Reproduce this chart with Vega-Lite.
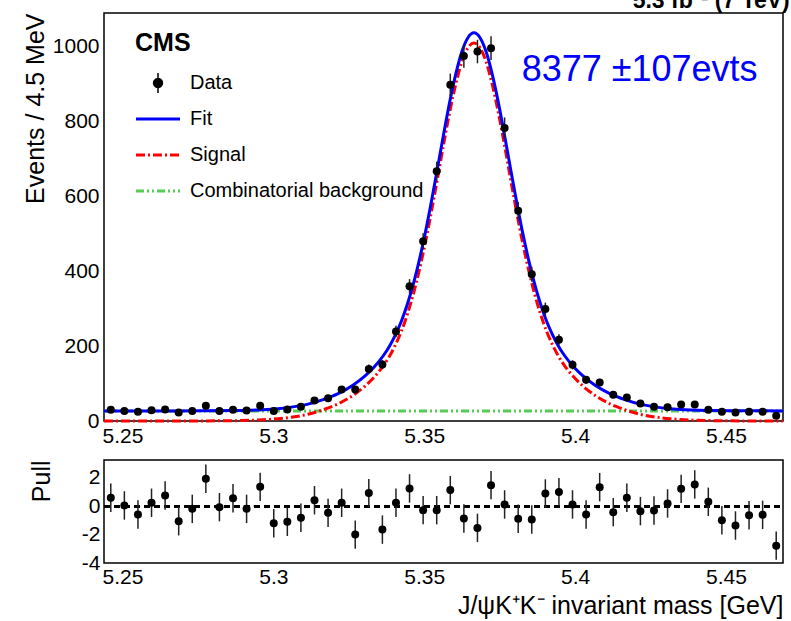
{
  "$schema": "https://vega.github.io/schema/vega-lite/v6.json",
  "padding": {"left": 22, "top": -10, "right": 4, "bottom": 0},
  "background": "white",
  "title": {"text": "5.3 fb⁻¹ (7 TeV)", "anchor": "end", "fontSize": 23, "fontWeight": "bold", "font": "Liberation Sans", "offset": -19, "baseline": "alphabetic", "color": "black"},
  "bounds": "flush",
  "spacing": 39,
  "datasets": {
    "bins": [
      {"m":5.24615,"y":30,"e":5.5,"p":0.59,"pe":1},
      {"m":5.25065,"y":27,"e":5.2,"p":0.05,"pe":1},
      {"m":5.25515,"y":25,"e":5.0,"p":-0.59,"pe":1},
      {"m":5.25965,"y":29,"e":5.4,"p":0.24,"pe":1},
      {"m":5.26415,"y":31,"e":5.6,"p":0.75,"pe":1},
      {"m":5.26865,"y":23,"e":4.8,"p":-1.06,"pe":1},
      {"m":5.27315,"y":27,"e":5.2,"p":-0.19,"pe":1},
      {"m":5.27765,"y":41,"e":6.4,"p":1.93,"pe":1},
      {"m":5.28215,"y":27,"e":5.2,"p":-0.07,"pe":1},
      {"m":5.28665,"y":30,"e":5.5,"p":0.56,"pe":1},
      {"m":5.29115,"y":28,"e":5.3,"p":-0.19,"pe":1},
      {"m":5.29565,"y":41,"e":6.4,"p":1.36,"pe":1},
      {"m":5.30015,"y":27,"e":5.2,"p":-1.2,"pe":1},
      {"m":5.30465,"y":31,"e":5.6,"p":-1.1,"pe":1},
      {"m":5.30915,"y":38,"e":6.2,"p":-0.82,"pe":1},
      {"m":5.31365,"y":55,"e":7.4,"p":0.42,"pe":1},
      {"m":5.31815,"y":61,"e":7.8,"p":-0.47,"pe":1},
      {"m":5.32265,"y":84,"e":9.2,"p":0.24,"pe":1},
      {"m":5.32715,"y":84,"e":9.2,"p":-2.0,"pe":1},
      {"m":5.33165,"y":139,"e":11.8,"p":0.92,"pe":1},
      {"m":5.33615,"y":151,"e":12.3,"p":-1.65,"pe":1},
      {"m":5.34065,"y":239,"e":15.5,"p":0.24,"pe":1},
      {"m":5.34515,"y":360,"e":19.0,"p":1.25,"pe":1},
      {"m":5.34965,"y":480,"e":21.9,"p":-0.28,"pe":1},
      {"m":5.35415,"y":667,"e":25.8,"p":-0.28,"pe":1},
      {"m":5.35865,"y":898,"e":30.0,"p":1.13,"pe":1},
      {"m":5.36315,"y":975,"e":31.2,"p":-0.87,"pe":1},
      {"m":5.36765,"y":987,"e":31.4,"p":-1.53,"pe":1},
      {"m":5.37215,"y":996,"e":31.6,"p":1.48,"pe":1},
      {"m":5.37665,"y":783,"e":28.0,"p":0.12,"pe":1},
      {"m":5.38115,"y":562,"e":23.7,"p":-0.89,"pe":1},
      {"m":5.38565,"y":392,"e":19.8,"p":-0.94,"pe":1},
      {"m":5.39015,"y":299,"e":17.3,"p":0.89,"pe":1},
      {"m":5.39465,"y":217,"e":14.7,"p":0.99,"pe":1},
      {"m":5.39915,"y":150,"e":12.2,"p":0.12,"pe":1},
      {"m":5.40365,"y":110,"e":10.5,"p":-0.59,"pe":1},
      {"m":5.40815,"y":103,"e":10.1,"p":1.34,"pe":1},
      {"m":5.41265,"y":70,"e":8.4,"p":-0.42,"pe":1},
      {"m":5.41715,"y":63,"e":7.9,"p":0.59,"pe":1},
      {"m":5.42165,"y":47,"e":6.9,"p":-0.35,"pe":1},
      {"m":5.42615,"y":38,"e":6.2,"p":-0.31,"pe":1},
      {"m":5.43065,"y":37,"e":6.1,"p":0.19,"pe":1},
      {"m":5.43515,"y":44,"e":6.6,"p":1.22,"pe":1},
      {"m":5.43965,"y":44,"e":6.6,"p":1.53,"pe":1},
      {"m":5.44415,"y":30,"e":5.5,"p":0.31,"pe":1},
      {"m":5.44865,"y":25,"e":5.0,"p":-0.99,"pe":1},
      {"m":5.45315,"y":23,"e":4.8,"p":-1.36,"pe":1},
      {"m":5.45765,"y":25,"e":5.0,"p":-0.64,"pe":1},
      {"m":5.46215,"y":25,"e":5.0,"p":-0.61,"pe":1},
      {"m":5.46665,"y":14,"e":3.7,"p":-2.78,"pe":1}
    ],
    "bkg": [{"m":5.2439,"y":27},{"m":5.4689,"y":27}],
    "sig": [
      {"m":5.2439,"y":0},{"m":5.2565,"y":0},{"m":5.2665,"y":0},{"m":5.2765,"y":0.2},{"m":5.2865,"y":0.8},
      {"m":5.2965,"y":3.2},{"m":5.3015,"y":6},{"m":5.3065,"y":10.7},{"m":5.3115,"y":18},{"m":5.3165,"y":30},
      {"m":5.3215,"y":46},{"m":5.3265,"y":69},{"m":5.3305,"y":94},{"m":5.3335,"y":118},{"m":5.3365,"y":148},
      {"m":5.3385,"y":173},{"m":5.3405,"y":204},{"m":5.3425,"y":241},{"m":5.3445,"y":287},{"m":5.3465,"y":342},
      {"m":5.3485,"y":407},{"m":5.3505,"y":481},{"m":5.3525,"y":564},{"m":5.3545,"y":652},{"m":5.3565,"y":742},
      {"m":5.3585,"y":827},{"m":5.3605,"y":901},{"m":5.3625,"y":960},{"m":5.3645,"y":997},{"m":5.3665,"y":1010},
      {"m":5.3685,"y":997},{"m":5.3705,"y":960},{"m":5.3725,"y":901},{"m":5.3745,"y":827},{"m":5.3765,"y":742},
      {"m":5.3785,"y":652},{"m":5.3805,"y":564},{"m":5.3825,"y":481},{"m":5.3845,"y":407},{"m":5.3865,"y":342},
      {"m":5.3885,"y":287},{"m":5.3905,"y":241},{"m":5.3925,"y":204},{"m":5.3945,"y":173},{"m":5.3965,"y":148},
      {"m":5.3995,"y":118},{"m":5.4025,"y":94},{"m":5.4065,"y":69},{"m":5.4115,"y":46},{"m":5.4165,"y":30},
      {"m":5.4215,"y":18},{"m":5.4265,"y":10.7},{"m":5.4315,"y":6},{"m":5.4365,"y":3.2},{"m":5.4465,"y":0.8},
      {"m":5.4565,"y":0.2},{"m":5.4689,"y":0}
    ],
    "fit": [
      {"m":5.2439,"y":27},{"m":5.2565,"y":27},{"m":5.2665,"y":27},{"m":5.2765,"y":27.2},{"m":5.2865,"y":27.8},
      {"m":5.2965,"y":30.2},{"m":5.3015,"y":33},{"m":5.3065,"y":37.7},{"m":5.3115,"y":45},{"m":5.3165,"y":57},
      {"m":5.3215,"y":73},{"m":5.3265,"y":96},{"m":5.3305,"y":121},{"m":5.3335,"y":145},{"m":5.3365,"y":175},
      {"m":5.3385,"y":200},{"m":5.3405,"y":231},{"m":5.3425,"y":268},{"m":5.3445,"y":314},{"m":5.3465,"y":369},
      {"m":5.3485,"y":434},{"m":5.3505,"y":508},{"m":5.3525,"y":591},{"m":5.3545,"y":679},{"m":5.3565,"y":769},
      {"m":5.3585,"y":854},{"m":5.3605,"y":928},{"m":5.3625,"y":987},{"m":5.3645,"y":1024},{"m":5.3665,"y":1037},
      {"m":5.3685,"y":1024},{"m":5.3705,"y":987},{"m":5.3725,"y":928},{"m":5.3745,"y":854},{"m":5.3765,"y":769},
      {"m":5.3785,"y":679},{"m":5.3805,"y":591},{"m":5.3825,"y":508},{"m":5.3845,"y":434},{"m":5.3865,"y":369},
      {"m":5.3885,"y":314},{"m":5.3905,"y":268},{"m":5.3925,"y":231},{"m":5.3945,"y":200},{"m":5.3965,"y":175},
      {"m":5.3995,"y":145},{"m":5.4025,"y":121},{"m":5.4065,"y":96},{"m":5.4115,"y":73},{"m":5.4165,"y":57},
      {"m":5.4215,"y":45},{"m":5.4265,"y":37.7},{"m":5.4315,"y":33},{"m":5.4365,"y":30.2},{"m":5.4465,"y":27.8},
      {"m":5.4565,"y":27.2},{"m":5.4689,"y":27}
    ]
  },
  "config": {
    "view": {"stroke": "black", "strokeWidth": 1.5},
    "font": "Liberation Sans",
    "axis": {"grid": false, "domain": false, "tickSize": 0, "tickColor": "black", "tickWidth": 1.2, "labelFont": "Liberation Sans", "labelFontSize": 21, "labelColor": "black", "titleFont": "Liberation Sans", "titleFontSize": 25, "titleFontWeight": "normal", "titleColor": "black", "labelOverlap": false, "labelFlush": false}
  },
  "vconcat": [
    {
      "width": 679,
      "height": 408,
      "layer": [
        {
          "encoding": {
            "x": {"field": "m", "type": "quantitative", "scale": {"domain": [5.2439, 5.4689], "nice": false, "zero": false},
              "axis": {"values": [5.25,5.26,5.27,5.28,5.29,5.3,5.31,5.32,5.33,5.34,5.35,5.36,5.37,5.38,5.39,5.4,5.41,5.42,5.43,5.44,5.45,5.46],
                "format": ".3~f", "labelExpr": "abs(datum.value*20 - round(datum.value*20)) < 0.001 ? datum.label : ''",
                "labelPadding": 4, "title": null, "labelOverlap": false, "labelFlush": false,
                "encode": {"ticks": {"update": {"y2": {"signal": "abs(datum.value*20 - round(datum.value*20)) < 0.001 ? -12 : -6"}}}}}},
            "y": {"field": "y", "type": "quantitative", "scale": {"domain": [0, 1090], "nice": false},
              "axis": {"values": [0,50,100,150,200,250,300,350,400,450,500,550,600,650,700,750,800,850,900,950,1000,1050],
                "format": "d", "labelExpr": "datum.value % 200 === 0 ? datum.label : ''", "labelPadding": 5, "labelOverlap": false,
                "title": "Events / 4.5 MeV", "titleAnchor": "end", "titleBaseline": "alphabetic", "titleX": -61,
                "encode": {"ticks": {"update": {"x2": {"signal": "datum.value % 200 === 0 ? 22 : 11"}}}}}}
          },
          "layer": [
            {"data": {"name": "bkg"}, "mark": {"type": "line", "strokeWidth": 3, "strokeDash": [8,3,2,3,2,3]},
              "encoding": {"color": {"datum": "Combinatorial background",
                "scale": {"domain": ["Data","Fit","Signal","Combinatorial background"], "range": ["#000000","#0000ff","#ff0000","#55cc55"]},
                "legend": {"orient": "none", "legendX": 31, "legendY": 18, "title": "CMS", "titleFontSize": 25, "titleFont": "Liberation Sans", "titleFontWeight": "bold", "titleColor": "black", "titlePadding": 12,
                  "labelFontSize": 20, "labelFont": "Liberation Sans", "labelColor": "black", "labelOffset": 22, "labelLimit": 400,
                  "symbolSize": 1936, "symbolStrokeWidth": 3, "symbolOffset": 13, "clipHeight": 30, "rowPadding": 6, "padding": 0,
                  "encode": {"symbols": {"update": {
                    "shape": {"signal": "datum.value === 'Data' ? 'M-0.2,0A0.2,0.2,0,1,0,0.2,0A0.2,0.2,0,1,0,-0.2,0ZM0,-0.45L0,0.45' : 'stroke'"},
                    "fill": {"signal": "datum.value === 'Data' ? 'black' : 'transparent'"},
                    "stroke": {"signal": "datum.value === 'Data' ? '#222222' : datum.value === 'Fit' ? '#0000ff' : datum.value === 'Signal' ? '#ff0000' : '#55cc55'"},
                    "strokeWidth": {"signal": "datum.value === 'Data' ? 1.5 : 3"},
                    "strokeDash": {"signal": "datum.value === 'Signal' ? [9,3,2,3] : datum.value === 'Combinatorial background' ? [8,3,2,3,2,3] : [1,0]"},
                    "opacity": {"value": 1},
                    "size": {"value": 1936}
                  }}}}}}},
            {"data": {"name": "sig"}, "mark": {"type": "line", "strokeWidth": 3, "strokeDash": [9,3,2,3], "interpolate": "monotone"},
              "encoding": {"color": {"datum": "Signal", "scale": {"domain": ["Data","Fit","Signal","Combinatorial background"], "range": ["#000000","#0000ff","#ff0000","#55cc55"]}}}},
            {"data": {"name": "fit"}, "mark": {"type": "line", "strokeWidth": 3, "interpolate": "monotone"},
              "encoding": {"color": {"datum": "Fit", "scale": {"domain": ["Data","Fit","Signal","Combinatorial background"], "range": ["#000000","#0000ff","#ff0000","#55cc55"]}}}},
            {"data": {"name": "bins"}, "mark": {"type": "errorbar", "ticks": false, "thickness": 1.5, "color": "#222222"},
              "encoding": {"yError": {"field": "e"}}},
            {"data": {"name": "bins"}, "mark": {"type": "point", "filled": true, "size": 64, "opacity": 1, "shape": "circle"},
              "encoding": {"color": {"datum": "Data", "scale": {"domain": ["Data","Fit","Signal","Combinatorial background"], "range": ["#000000","#0000ff","#ff0000","#55cc55"]}}}}
          ]
        },
        {"data": {"values": [{"label": "8377 ±107evts"}]},
          "mark": {"type": "text", "align": "left", "baseline": "alphabetic", "fontSize": 36, "font": "Liberation Sans", "color": "#0000ff", "opacity": 1},
          "encoding": {"text": {"field": "label", "type": "nominal"},
            "x": {"datum": 5.3823, "type": "quantitative", "scale": {"domain": [5.2439, 5.4689], "nice": false, "zero": false},
              "axis": {"values": [5.25,5.26,5.27,5.28,5.29,5.3,5.31,5.32,5.33,5.34,5.35,5.36,5.37,5.38,5.39,5.4,5.41,5.42,5.43,5.44,5.45,5.46],
                "format": ".3~f", "labelExpr": "abs(datum.value*20 - round(datum.value*20)) < 0.001 ? datum.label : ''",
                "labelPadding": 4, "title": null, "labelOverlap": false, "labelFlush": false,
                "encode": {"ticks": {"update": {"y2": {"signal": "abs(datum.value*20 - round(datum.value*20)) < 0.001 ? -12 : -6"}}}}}},
            "y": {"datum": 909, "type": "quantitative", "scale": {"domain": [0, 1090], "nice": false},
              "axis": {"values": [0,50,100,150,200,250,300,350,400,450,500,550,600,650,700,750,800,850,900,950,1000,1050],
                "format": "d", "labelExpr": "datum.value % 200 === 0 ? datum.label : ''", "labelPadding": 5, "labelOverlap": false,
                "title": "Events / 4.5 MeV", "titleAnchor": "end", "titleBaseline": "alphabetic", "titleX": -61,
                "encode": {"ticks": {"update": {"x2": {"signal": "datum.value % 200 === 0 ? 22 : 11"}}}}}}}}
      ]
    },
    {
      "width": 679,
      "height": 103,
      "data": {"name": "bins"},
      "encoding": {
        "x": {"field": "m", "type": "quantitative", "scale": {"domain": [5.2439, 5.4689], "nice": false, "zero": false},
          "axis": {"values": [5.25,5.26,5.27,5.28,5.29,5.3,5.31,5.32,5.33,5.34,5.35,5.36,5.37,5.38,5.39,5.4,5.41,5.42,5.43,5.44,5.45,5.46],
            "format": ".3~f", "labelExpr": "abs(datum.value*20 - round(datum.value*20)) < 0.001 ? datum.label : ''",
            "labelPadding": 3, "labelOverlap": false, "labelFlush": false,
            "title": "J/ψK⁺K⁻ invariant mass [GeV]", "titleAnchor": "end", "titleBaseline": "alphabetic", "titleY": 50,
            "encode": {"ticks": {"update": {"y2": {"signal": "abs(datum.value*20 - round(datum.value*20)) < 0.001 ? -12 : -6"}}}}}},
        "y": {"field": "p", "type": "quantitative", "scale": {"domain": [-4, 3.25], "nice": false, "zero": false},
          "axis": {"values": [-4,-2,0,2], "labelExpr": "'' + datum.value", "labelPadding": 4, "labelOverlap": false,
            "title": "Pull", "titleAnchor": "end", "titleBaseline": "alphabetic", "titleX": -55,
            "encode": {"ticks": {"update": {"x2": {"value": 15}}}}}}
      },
      "layer": [
        {"mark": {"type": "rule", "strokeDash": [6,4], "strokeWidth": 2.5, "color": "black"}, "encoding": {"y": {"datum": 0}, "x": {"value": 0}, "x2": {"value": 679}}},
        {"mark": {"type": "errorbar", "ticks": false, "thickness": 1.5, "color": "#222222"}, "encoding": {"yError": {"field": "pe"}}},
        {"mark": {"type": "point", "filled": true, "size": 64, "opacity": 1, "shape": "circle", "color": "black"}}
      ]
    }
  ]
}
